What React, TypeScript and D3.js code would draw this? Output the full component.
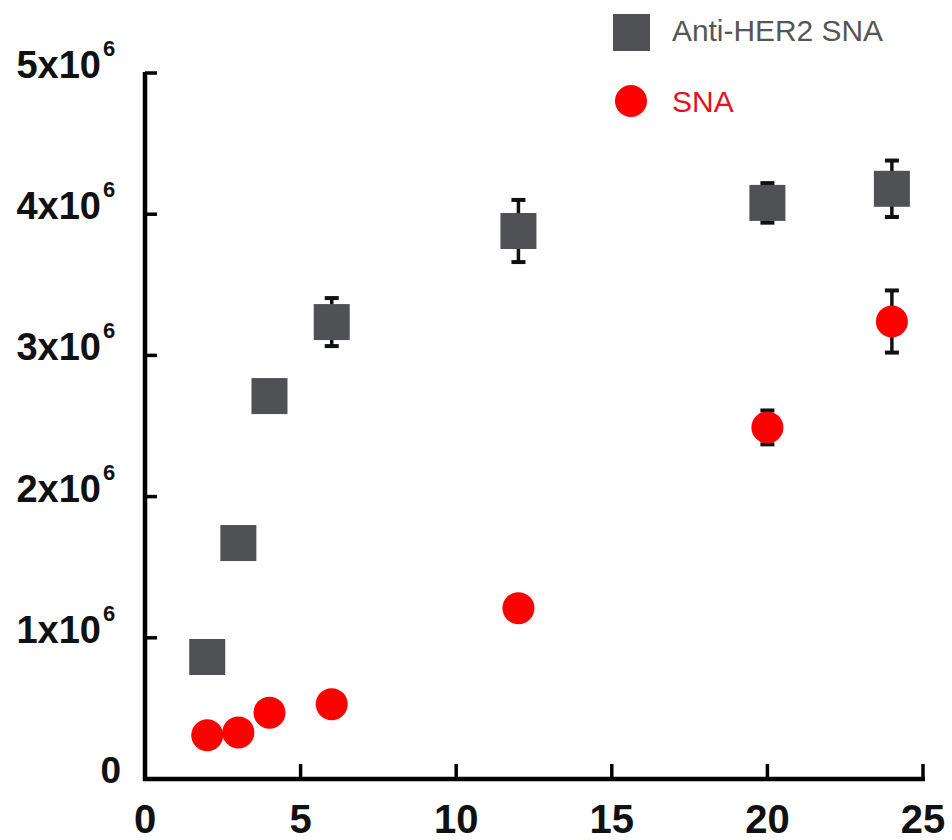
import React from "react";
import * as d3 from "d3";

const times = [2, 3, 4, 6, 12, 20, 24];
const antiHer2 = [0.864e6, 1.671e6, 2.712e6, 3.236e6, 3.881e6, 4.08e6, 4.18e6];
const antiHer2Err = [0, 0, 0, 0.17e6, 0.22e6, 0.14e6, 0.2e6];
const sna = [0.31e6, 0.33e6, 0.47e6, 0.53e6, 1.21e6, 2.49e6, 3.24e6];
const snaErr = [0, 0, 0, 0, 0, 0.12e6, 0.22e6];
const xTicks = [0, 5, 10, 15, 20, 25];
const yTicks = [0, 1e6, 2e6, 3e6, 4e6, 5e6];
const yTickMantissa = ["0", "1x10", "2x10", "3x10", "4x10", "5x10"];
const yTickExponent = ["", "6", "6", "6", "6", "6"];
const seriesNames = ["Anti-HER2 SNA", "SNA"];

const W = 952;
const H = 840;

export default function App() {
  const x = d3.scaleLinear().domain([0, 25]).range([145, 923]);
  const y = d3.scaleLinear().domain([0, 5e6]).range([779, 73]);
  const sq = 36;
  const r = 16;
  const cap = 7;
  const font = "Arial, 'Liberation Sans', Helvetica, sans-serif";

  const errBar = (t: number, v: number, e: number, key: string) => {
    if (!e) return null;
    const cx = x(t);
    const yt = y(v + e);
    const yb = y(v - e);
    return (
      <g key={key} stroke="#111" strokeWidth={3.5}>
        <line x1={cx} x2={cx} y1={yt} y2={yb} />
        <line x1={cx - cap} x2={cx + cap} y1={yt} y2={yt} strokeWidth={4} />
        <line x1={cx - cap} x2={cx + cap} y1={yb} y2={yb} strokeWidth={4} />
      </g>
    );
  };

  return (
    <svg
      width={W}
      height={H}
      style={{ position: "absolute", left: 0, top: 0, background: "#fff" }}
      fontFamily={font}
    >
      {/* axes */}
      <line x1={x(0)} x2={x(0)} y1={y(5e6) - 1} y2={y(0) + 2} stroke="#000" strokeWidth={4.5} />
      <line x1={x(0) - 2} x2={x(25) + 2} y1={y(0)} y2={y(0)} stroke="#000" strokeWidth={4.5} />
      {yTicks.map((t, i) => (
        <g key={"yt" + i} fill="#111" fontWeight="bold">
          {t > 0 && (
            <line x1={x(0)} x2={x(0) + 12} y1={y(t)} y2={y(t)} stroke="#000" strokeWidth={3.5} />
          )}
          {t === 0 ? (
            <text x={121} y={y(t) + 4} textAnchor="end" fontSize={37}>
              {yTickMantissa[i]}
            </text>
          ) : (
            <>
              <text x={101} y={y(t) + 5} textAnchor="end" fontSize={38}>
                {yTickMantissa[i]}
              </text>
              <text x={103} y={y(t) - 17} fontSize={22}>
                {yTickExponent[i]}
              </text>
            </>
          )}
        </g>
      ))}
      {xTicks.map((t, i) => (
        <g key={"xt" + i}>
          {t > 0 && (
            <line x1={x(t)} x2={x(t)} y1={y(0)} y2={y(0) - 15} stroke="#000" strokeWidth={3.5} />
          )}
          <text
            x={x(t)}
            y={833}
            textAnchor="middle"
            fontSize={40}
            fontWeight="bold"
            fill="#111"
          >
            {t}
          </text>
        </g>
      ))}

      {/* error bars */}
      {times.map((t, i) => errBar(t, antiHer2[i], antiHer2Err[i], "ea" + i))}
      {times.map((t, i) => errBar(t, sna[i], snaErr[i], "es" + i))}

      {/* markers */}
      {times.map((t, i) => (
        <rect
          key={"sq" + i}
          x={x(t) - sq / 2}
          y={y(antiHer2[i]) - sq / 2}
          width={sq}
          height={sq}
          fill="#4f5154"
        />
      ))}
      {times.map((t, i) => (
        <circle key={"c" + i} cx={x(t)} cy={y(sna[i])} r={r} fill="#ff0000" />
      ))}

      {/* legend */}
      <rect x={613} y={14} width={37} height={37} fill="#4f5154" />
      <text x={672} y={41} fontSize={30} fill="#555" textLength={211} lengthAdjust="spacingAndGlyphs">
        {seriesNames[0]}
      </text>
      <circle cx={631} cy={101} r={16} fill="#ff0000" />
      <text x={672} y={112} fontSize={30} fill="#e8101e">
        {seriesNames[1]}
      </text>
    </svg>
  );
}
